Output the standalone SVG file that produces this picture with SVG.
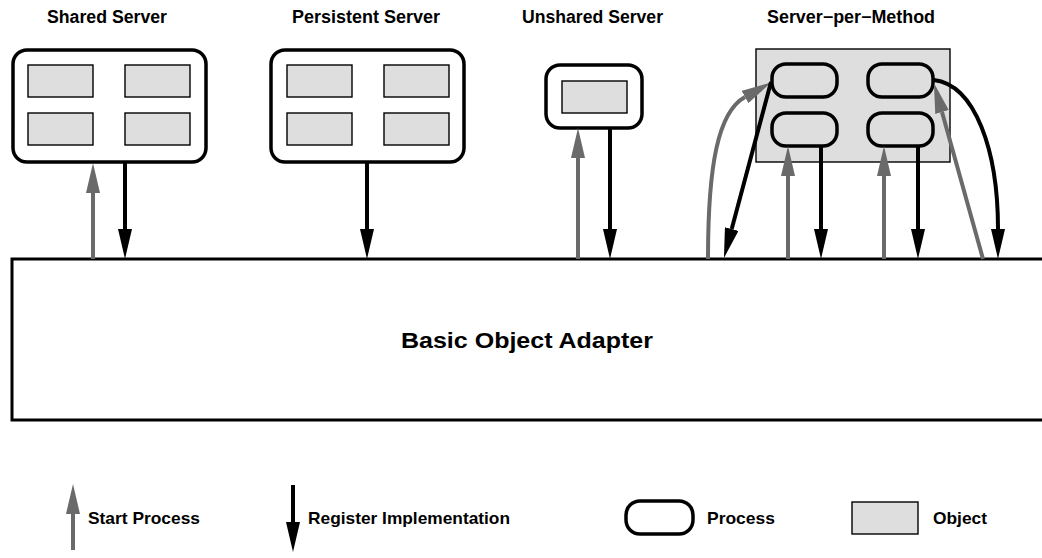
<svg xmlns="http://www.w3.org/2000/svg" width="1042" height="558" viewBox="0 0 1042 558">
  <style>
    .title { font-family: "Liberation Sans", Arial, sans-serif; font-weight: bold; font-size: 17.5px; fill: #000; }
    .legend { font-family: "Liberation Sans", Arial, sans-serif; font-weight: bold; font-size: 17px; fill: #000; }
    .big { font-family: "Liberation Sans", Arial, sans-serif; font-weight: bold; font-size: 22px; fill: #000; }
    .server { fill: #fff; stroke: #000; stroke-width: 3.5; }
    .object { fill: #dedede; stroke: #000; stroke-width: 1.4; }
    .process { fill: none; stroke: #000; stroke-width: 3.5; }
    .start { fill: none; stroke: #6a6a6a; stroke-width: 4; marker-end: url(#headGray); }
    .register { fill: none; stroke: #000; stroke-width: 4; marker-end: url(#headBlack); }
  </style>
  <defs>
    <marker id="headGray" viewBox="0 0 30 14" markerWidth="30" markerHeight="14" refX="0" refY="7" orient="auto" markerUnits="userSpaceOnUse">
      <path d="M0,0 L30,7 L0,14 Z" fill="#6a6a6a"/>
    </marker>
    <marker id="headBlack" viewBox="0 0 30 14" markerWidth="30" markerHeight="14" refX="0" refY="7" orient="auto" markerUnits="userSpaceOnUse">
      <path d="M0,0 L30,7 L0,14 Z" fill="#000"/>
    </marker>
  </defs>
  <rect width="1042" height="558" fill="#fff"/>

  <!-- Basic Object Adapter -->
  <g id="boa">
    <rect x="12" y="259" width="1040" height="161" fill="#fff" stroke="#000" stroke-width="3"/>
    <text class="big" x="401" y="348" textLength="252" lengthAdjust="spacingAndGlyphs">Basic Object Adapter</text>
  </g>

  <!-- Shared Server -->
  <g id="shared-server">
    <text class="title" x="47" y="23" textLength="120" lengthAdjust="spacingAndGlyphs">Shared Server</text>
    <rect class="server" x="13" y="50" width="193" height="112" rx="14"/>
    <rect class="object" x="28" y="65" width="65" height="32"/>
    <rect class="object" x="125" y="65" width="65" height="32"/>
    <rect class="object" x="28" y="113" width="65" height="32"/>
    <rect class="object" x="125" y="113" width="65" height="32"/>
  </g>

  <!-- Persistent Server -->
  <g id="persistent-server">
    <text class="title" x="292" y="23" textLength="148" lengthAdjust="spacingAndGlyphs">Persistent Server</text>
    <rect class="server" x="271" y="50" width="193" height="112" rx="14"/>
    <rect class="object" x="287" y="65" width="65" height="32"/>
    <rect class="object" x="384" y="65" width="65" height="32"/>
    <rect class="object" x="287" y="113" width="65" height="32"/>
    <rect class="object" x="384" y="113" width="65" height="32"/>
  </g>

  <!-- Unshared Server -->
  <g id="unshared-server">
    <text class="title" x="522" y="23" textLength="141" lengthAdjust="spacingAndGlyphs">Unshared Server</text>
    <rect class="server" x="546" y="65" width="96" height="63" rx="14"/>
    <rect class="object" x="562" y="81" width="65" height="32"/>
  </g>

  <!-- Server-per-Method -->
  <g id="server-per-method">
    <text class="title" x="767" y="23" textLength="168" lengthAdjust="spacingAndGlyphs">Server−per−Method</text>
    <rect class="object" x="756" y="49" width="194" height="113"/>
    <rect class="process" x="772" y="64" width="65" height="33" rx="14"/>
    <rect class="process" x="868" y="64" width="65" height="33" rx="14"/>
    <rect class="process" x="772" y="113" width="65" height="33" rx="14"/>
    <rect class="process" x="868" y="113" width="65" height="33" rx="14"/>
  </g>

  <!-- Connectors -->
  <g id="connectors">
    <line class="start" x1="93" y1="259" x2="93" y2="193"/>
    <line class="register" x1="125" y1="162" x2="125" y2="229"/>
    <line class="register" x1="367" y1="162" x2="367" y2="229"/>
    <line class="start" x1="578" y1="259" x2="578" y2="158"/>
    <line class="register" x1="610" y1="128" x2="610" y2="229"/>
    <path class="start" d="M708,259 C708,165 718,112 745,97"/>
    <line class="register" x1="771" y1="82" x2="731.7" y2="229"/>
    <line class="start" x1="788" y1="259" x2="788" y2="176"/>
    <line class="register" x1="821" y1="146" x2="821" y2="229"/>
    <line class="start" x1="884" y1="259" x2="884" y2="176"/>
    <line class="register" x1="918" y1="146" x2="918" y2="229"/>
    <line class="start" x1="983" y1="259" x2="942" y2="112"/>
    <path class="register" d="M934,80 C975,85 998,150 998,229"/>
  </g>

  <!-- Legend -->
  <g id="legend-start">
    <line class="start" x1="73" y1="550" x2="73" y2="514"/>
    <text class="legend" x="88" y="524" textLength="112" lengthAdjust="spacingAndGlyphs">Start Process</text>
  </g>
  <g id="legend-register">
    <line class="register" x1="293" y1="485" x2="293" y2="522"/>
    <text class="legend" x="308" y="524" textLength="202" lengthAdjust="spacingAndGlyphs">Register Implementation</text>
  </g>
  <g id="legend-process">
    <rect class="process" x="626" y="501" width="67" height="33" rx="14" fill="#fff"/>
    <text class="legend" x="707" y="524" textLength="68" lengthAdjust="spacingAndGlyphs">Process</text>
  </g>
  <g id="legend-object">
    <rect class="object" x="852" y="502" width="66" height="32"/>
    <text class="legend" x="933" y="524" textLength="54" lengthAdjust="spacingAndGlyphs">Object</text>
  </g>
</svg>
